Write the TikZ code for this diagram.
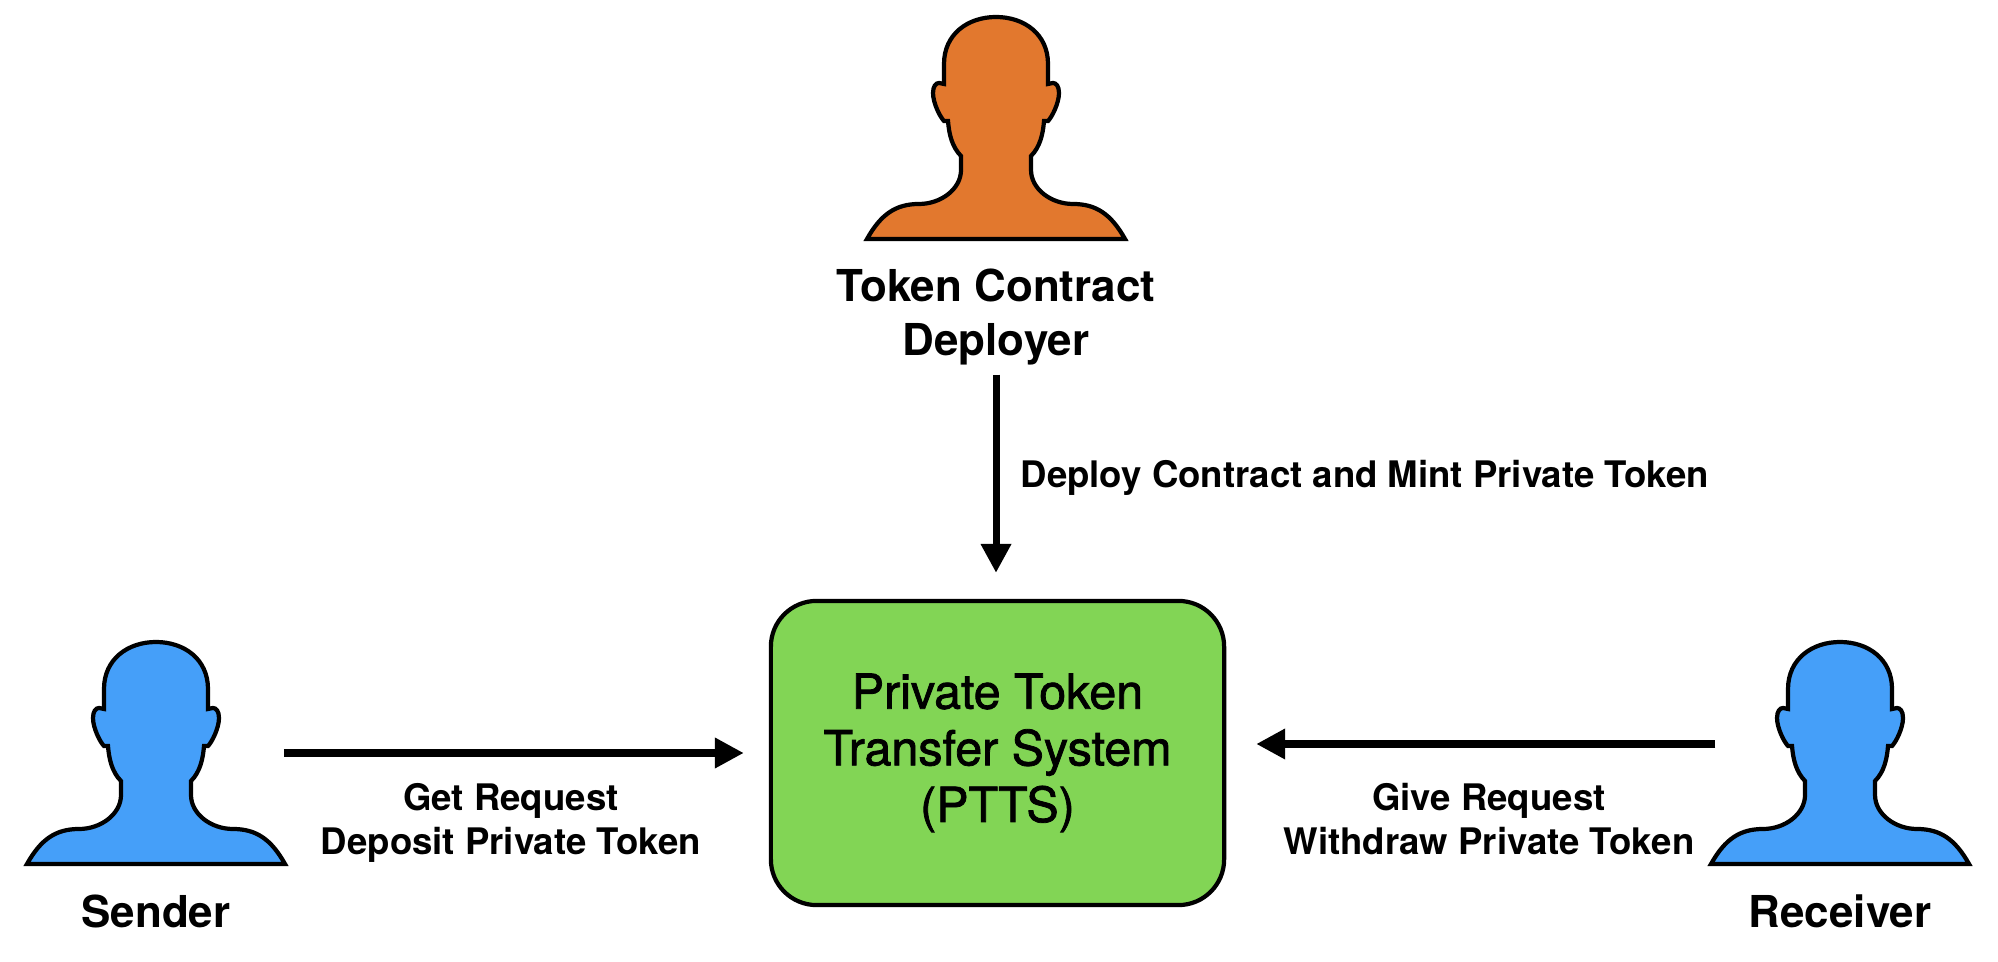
\documentclass[tikz,border=0pt]{standalone}
\usepackage{fontspec}
\setmainfont{TeX Gyre Heros}
\usetikzlibrary{arrows.meta}
\definecolor{deployercolor}{HTML}{E2782E}
\definecolor{usercolor}{HTML}{459FF9}
\definecolor{systemcolor}{HTML}{82D555}
\newfontfamily\systemfont[FakeBold=1.6]{TeX Gyre Heros}
\tikzset{
  personshape/.style={draw=black, line width=1.2pt, miter limit=10},
  personbox/.style={minimum width=2.6cm, minimum height=2.22cm, inner sep=0pt},
  actorlabel/.style={font=\fontsize{12.5}{15.6}\selectfont\bfseries, align=center, inner sep=0pt},
  flowlabel/.style={font=\fontsize{10.4}{12.3}\selectfont\bfseries, align=center, inner sep=0pt},
  flowarrow/.style={line width=2pt, -{Triangle[length=8.2pt,width=8.2pt]}},
  systembox/.style={draw=black, line width=1.2pt, fill=systemcolor, rounded corners=13pt,
    minimum width=4.53cm, minimum height=3.04cm, align=center,
    font=\systemfont\fontsize{13.75}{16.1}\selectfont},
  pics/person/.style={code={
    \draw[personshape, fill=#1] (-129,0)
      .. controls (-115,-25) and (-100,-35) .. (-77,-35)
      .. controls (-55,-35) and (-35,-50) .. (-35,-69)
      -- (-35,-83)
      .. controls (-44,-92) and (-47,-105) .. (-48,-118)
      -- (-52,-118)
      .. controls (-56,-122) and (-63,-136) .. (-63,-146)
      .. controls (-63,-153) and (-60,-156) .. (-57,-156)
      -- (-52,-155)
      -- (-52,-175)
      .. controls (-52,-205) and (-28,-222) .. (0,-222)
      .. controls (28,-222) and (52,-205) .. (52,-175)
      -- (52,-155)
      -- (57,-156)
      .. controls (60,-156) and (63,-153) .. (63,-146)
      .. controls (63,-136) and (56,-122) .. (52,-118)
      -- (48,-118)
      .. controls (47,-105) and (44,-92) .. (35,-83)
      -- (35,-69)
      .. controls (35,-50) and (55,-35) .. (77,-35)
      .. controls (100,-35) and (115,-25) .. (129,0)
      -- cycle;
  }},
}
\begin{document}
\begin{tikzpicture}[x=0.01cm, y=-0.01cm]
\useasboundingbox (0,0) rectangle (1998,962);
% people
\pic at (996,239) {person=deployercolor};
\pic at (156,864) {person=usercolor};
\pic at (1840,864) {person=usercolor};
\node[personbox] (deployer) at (996,128) {};
\node[personbox] (sender) at (156,753) {};
\node[personbox] (receiver) at (1840,753) {};
% names
\node[actorlabel] (deployername) at (996,317) {Token Contract\\Deployer};
\node[actorlabel] (sendername) at (156,911) {Sender};
\node[actorlabel] (receivername) at (1840,911) {Receiver};
% system
\node[systembox, text depth=3pt] (ptts) at (997.5,753) {Private Token\\Transfer System\\(PTTS)};
% arrows
\draw[flowarrow] ([shift={(0,8.5)}]deployername.south) -- ([shift={(-1.5,-26)}]ptts.north);
\draw[flowarrow] ([shift={(-3,0)}]sender.east) -- ([shift={(-25,0)}]ptts.west);
\draw[flowarrow] ([shift={(6,-9)}]receiver.west) -- ([shift={(30,-9)}]ptts.east);
% arrow labels
\node[flowlabel, anchor=west] (deploylabel) at (1020,478) {Deploy Contract and Mint Private Token};
\node[flowlabel] (getlabel) at (511,823) {Get Request\\Deposit Private Token};
\node[flowlabel] (givelabel) at (1489,819) {Give Request\\Withdraw Private Token};
\end{tikzpicture}
\end{document}
